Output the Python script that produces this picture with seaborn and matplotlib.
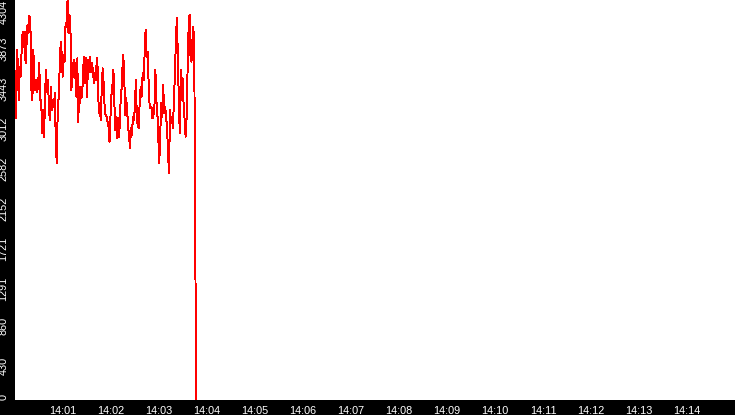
import numpy as np
import pandas as pd
import matplotlib
matplotlib.use("Agg")
import matplotlib.pyplot as plt
import matplotlib.transforms as mtransforms
import seaborn as sns

# ---- data ----
values = [
    3031, 3766, 3640, 3228, 3587, 3479, 3766, 3963, 3802, 3963,
    3622, 3838, 4035, 3945, 4132, 4017, 3335, 3228, 3766, 3407,
    3335, 3443, 3318, 3425, 3622, 3228, 3228, 2869, 3120, 2833,
    3300, 3551, 3318, 3443, 3120, 3013, 3371, 3120, 3228, 3156,
    3300, 2762, 2546, 3156, 3264, 3587, 3856, 3730, 3479, 3712,
    3640, 4053, 4017, 4304, 3945, 4143, 3981, 3335, 3622, 3479,
    3658, 3497, 3264, 3676, 2995, 3371, 3192, 3371, 3264, 3569,
    3694, 3407, 3676, 3264, 3658, 3533, 3694, 3533, 3622, 3551,
    3407, 3515, 3443, 3676, 3551, 3084, 3192, 3013, 3335, 3569,
    3407, 3156, 3067, 3049, 2995, 2941, 2780, 3049, 3282, 3389,
    3551, 3192, 2905, 3049, 2815, 3031, 2833, 3156, 3264, 3515,
    3712, 3551, 3067, 3246, 3138, 2941, 2851, 2708, 2923, 2851,
    3049, 3013, 3138, 3443, 3049, 2941, 2923, 3228, 3371, 3264,
    3515, 3443, 3730, 3981, 3694, 3748, 3443, 3192, 3138, 3156,
    3031, 3067, 3138, 3551, 3228, 3102, 2833, 2546, 2869, 3192,
    3049, 3389, 3084, 3156, 3049, 2923, 2654, 2439, 3120, 2977,
    3049, 2923, 3228, 3497, 3856, 4107, 3712, 3228, 2869, 3551,
    3228, 3461, 3156, 3013, 2833, 3031, 3551, 3981, 4143, 3694,
    3640, 3874, 4017, 3479, 1450, 0,
]
start_time = "2024-01-01 14:00:01"
sample_interval = "1220ms"
y_ticks = [0, 430, 860, 1291, 1721, 2152, 2582, 3012, 3443, 3873, 4304]
x_tick_labels = ["14:%02d" % m for m in range(1, 15)]

times = pd.date_range(start=start_time, periods=len(values), freq=sample_interval)
df = pd.DataFrame({"time": times, "value": values})

sns.set_style("white")
plt.rcParams["font.family"] = ["Liberation Sans", "DejaVu Sans"]

fig = plt.figure(figsize=(7.35, 4.15), dpi=100, facecolor="black")
ax = fig.add_axes([15 / 735, 15 / 415, 720 / 735, 400 / 415])
ax.set_facecolor("white")

sns.lineplot(data=df, x="time", y="value", ax=ax, color="#ff0000",
             linewidth=0.7, estimator=None, antialiased=False)

x0 = pd.Timestamp("2024-01-01 14:00:00")
x1 = pd.Timestamp("2024-01-01 14:15:00")
ax.set_xlim(x0, x1)
ax.set_ylim(0, 4304)

xt = [pd.Timestamp("2024-01-01 " + lbl + ":00") for lbl in x_tick_labels]
ax.set_xticks(xt)
ax.set_xticklabels(x_tick_labels)
ax.set_yticks(y_ticks)
ax.set_yticklabels([str(v) for v in y_ticks], rotation=90)

for s in ax.spines.values():
    s.set_visible(False)

ax.tick_params(axis="both", colors="white", labelcolor="white",
               labelsize=7.8, length=3.6, width=1, direction="out")
ax.tick_params(axis="y", pad=1)
ax.tick_params(axis="x", pad=0.5)

up = mtransforms.ScaledTranslation(0, 3 / 100, fig.dpi_scale_trans)
labels = ax.get_yticklabels()
for i, lab in enumerate(labels):
    if i == 0:
        lab.set_va("bottom")
    else:
        lab.set_va("top")
        if i != len(labels) - 1:
            lab.set_transform(lab.get_transform() + up)

ax.set_xlabel("")
ax.set_ylabel("")
ax.grid(False)

fig.savefig("out.png", dpi=100, facecolor="black")
